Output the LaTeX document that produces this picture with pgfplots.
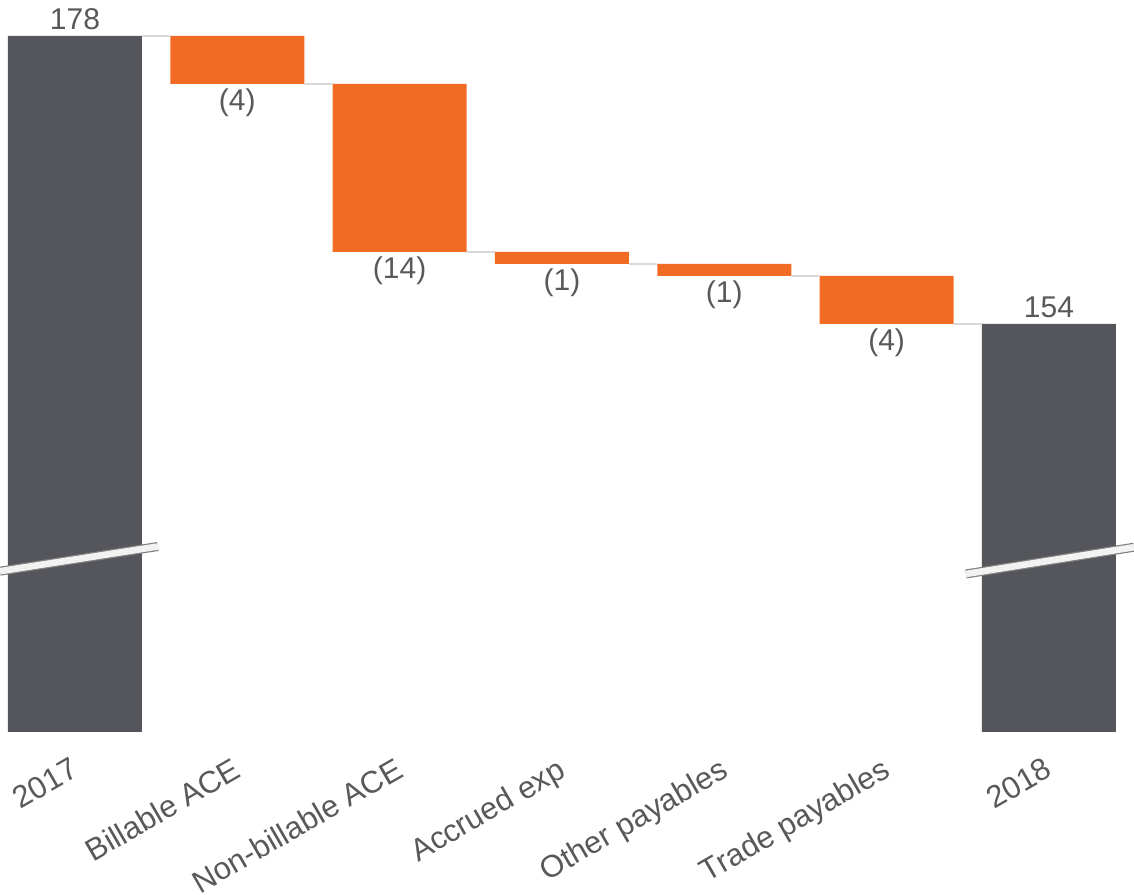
\documentclass[border=0pt]{standalone}
\usepackage{pgfplots}
\pgfplotsset{compat=1.18}
\usepackage{fontspec}
\setmainfont{Liberation Sans}
\definecolor{bargray}{HTML}{54565B}
\definecolor{barorange}{HTML}{F26B22}
\definecolor{txtgray}{HTML}{595959}
\definecolor{conngray}{HTML}{D9D9D9}
\definecolor{breakfill}{HTML}{F2F2F2}
\definecolor{breakedge}{HTML}{7F7F7F}
\pgfplotsset{
  wfbase/.style={
    scale only axis, width=567pt, height=348pt,
    xmin=-0.462, xmax=6.524, ymin=120, ymax=178,
    axis line style={draw=none}, tick style={draw=none},
    ytick=\empty,
  },
}
\tikzset{lbl/.style={font=\fontsize{15}{18}\selectfont, text=txtgray, inner sep=0pt}}
\begin{document}
\begin{tikzpicture}
\begin{axis}[wfbase, ybar stacked, bar width=0.8255,
  xtick={0,...,6},
  xticklabels={2017, Billable ACE, Non-billable ACE, Accrued exp, Other payables, Trade payables, 2018},
  xticklabel style={rotate=30, anchor=north east, inner sep=0pt, xshift=-8.5pt, yshift=-9pt,
    font=\fontsize{15.5}{18}\selectfont, text=txtgray},
]
\addplot[fill=none, draw=none] coordinates {(0,0) (1,174) (2,160) (3,159) (4,158) (5,154) (6,0)};
\addplot[fill=bargray, draw=none] coordinates {(0,178) (1,0) (2,0) (3,0) (4,0) (5,0) (6,154)};
\addplot[fill=barorange, draw=none] coordinates {(0,0) (1,4) (2,14) (3,1) (4,1) (5,4) (6,0)};
\end{axis}
\begin{axis}[wfbase, clip=false, xtick=\empty]
\addplot[conngray, line width=0.75pt, unbounded coords=jump] coordinates {
  (0.413,178) (0.587,178) (nan,nan)
  (1.413,174) (1.587,174) (nan,nan)
  (2.413,160) (2.587,160) (nan,nan)
  (3.413,159) (3.587,159) (nan,nan)
  (4.413,158) (4.587,158) (nan,nan)
  (5.413,154) (5.587,154)};
\addplot[breakedge, line width=4.5pt] coordinates {(-0.462,133.4) (0.511,135.46)};
\addplot[breakfill, line width=3.3pt] coordinates {(-0.462,133.4) (0.511,135.46)};
\addplot[breakedge, line width=4.5pt] coordinates {(5.489,133.17) (6.524,135.4)};
\addplot[breakfill, line width=3.3pt] coordinates {(5.489,133.17) (6.524,135.4)};
\node[lbl, anchor=base, yshift=3.5pt] at (axis cs:0,178) {178};
\node[lbl, anchor=base, yshift=3.5pt] at (axis cs:6,154) {154};
\node[lbl, anchor=north, yshift=-2pt] at (axis cs:1,174) {(4)};
\node[lbl, anchor=north, yshift=-2pt] at (axis cs:2,160) {(14)};
\node[lbl, anchor=north, yshift=-2pt] at (axis cs:3,159) {(1)};
\node[lbl, anchor=north, yshift=-2pt] at (axis cs:4,158) {(1)};
\node[lbl, anchor=north, yshift=-2pt] at (axis cs:5,154) {(4)};
\end{axis}
\pgfresetboundingbox
\path[use as bounding box] (0pt,-81pt) rectangle (567pt,366pt);
\end{tikzpicture}
\end{document}
